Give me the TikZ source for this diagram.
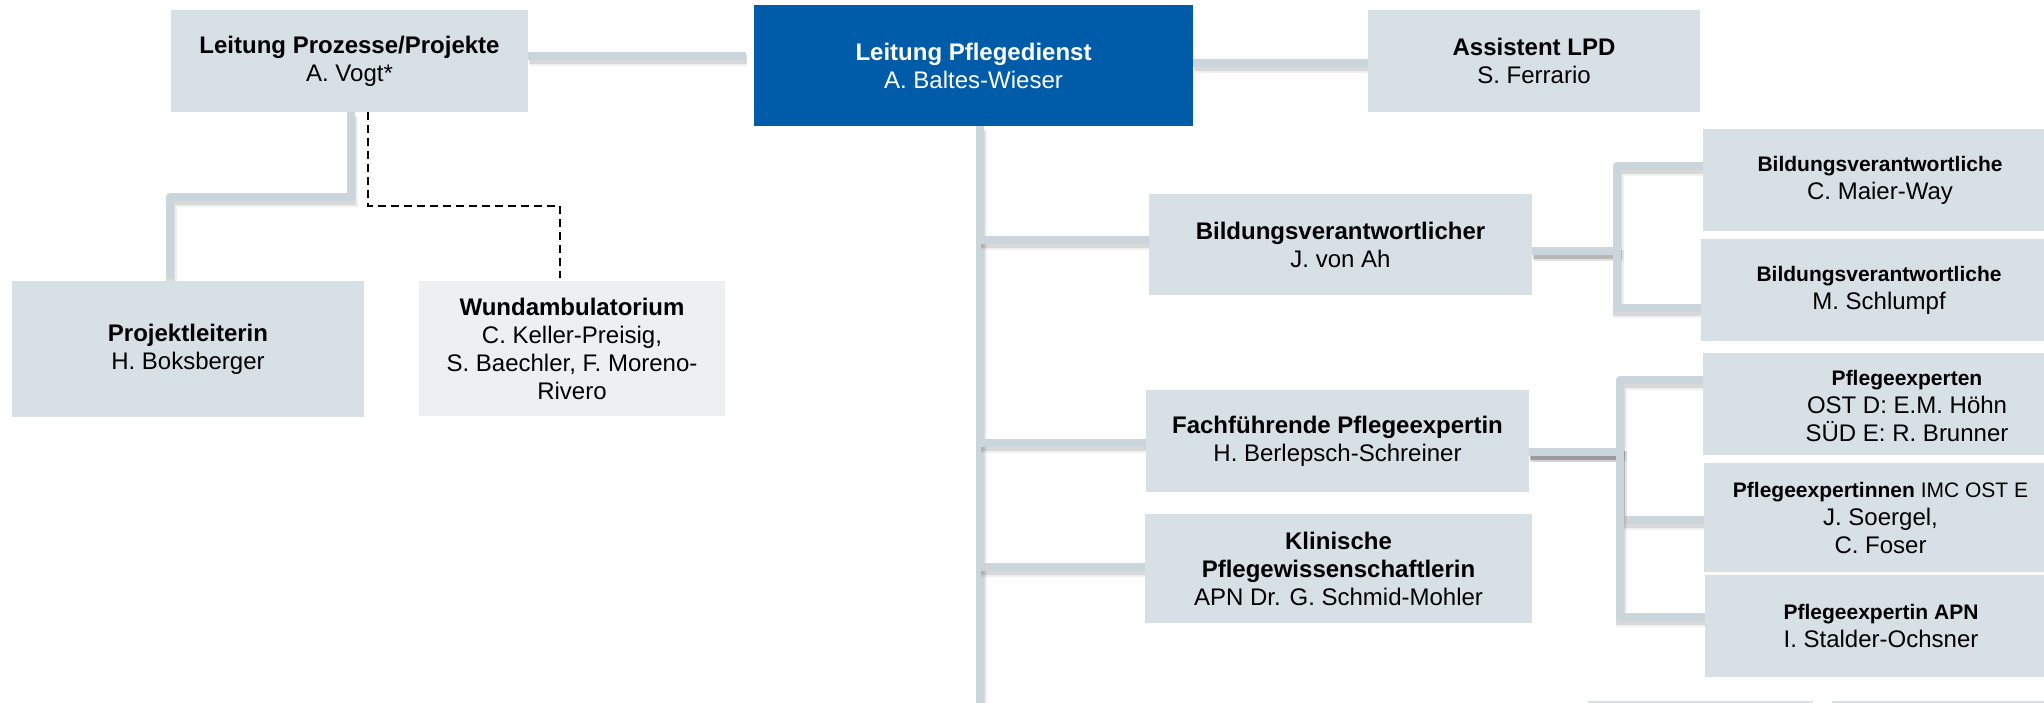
\documentclass[tikz,border=0pt]{standalone}
\usepackage{fontspec}
\setmainfont{Liberation Sans}
\usetikzlibrary{backgrounds}
\definecolor{boxfill}{HTML}{D6E0E5}
\definecolor{lpdblue}{HTML}{005CA9}
\definecolor{wundfill}{HTML}{EDEFF1}
\definecolor{connc}{HTML}{CAD6DC}
\newcommand\fsMain{\fontsize{12}{14}\selectfont}
\newcommand\fsTitle{\fontsize{10.5}{14}\selectfont}
\begin{document}
\begin{tikzpicture}[x=0.5pt,y=-0.5pt,
  orgbox/.style={rectangle, fill=boxfill, inner sep=0pt, align=center, font=\fsMain, anchor=center},
  bluebox/.style={orgbox, fill=lpdblue, text=white},
  lightbox/.style={orgbox, fill=wundfill},
  plaintext/.style={inner sep=0pt, align=center, font=\fsMain, anchor=center},
  connline/.style={draw=connc, line width=4pt, line join=round,
    preaction={draw=black, draw opacity=0.10, line width=4.6pt, transform canvas={yshift=-1.7pt, xshift=0.4pt}},
    preaction={draw=black, draw opacity=0.06, line width=5.6pt, transform canvas={yshift=-2.2pt, xshift=0.6pt}}},
  dashline/.style={draw=black, line width=1pt, dash pattern=on 4pt off 2.5pt}
]
\useasboundingbox (0,0) rectangle (2044,702);
\clip (0,0) rectangle (2044,702);

% boxes
\node[orgbox, minimum width=178.5pt, minimum height=51pt] (lpp) at (349.5,61)
  {\textbf{Leitung Prozesse/Projekte}\\A. Vogt*};
\node[bluebox, minimum width=219.5pt, minimum height=60.5pt] (lpd) at (973.5,65.5)
  {\textbf{Leitung Pflegedienst}\\A. Baltes-Wieser};
\node[orgbox, minimum width=166pt, minimum height=51pt] (ass) at (1534,61)
  {\textbf{Assistent LPD}\\S. Ferrario};
\node[orgbox, minimum width=176pt, minimum height=68pt] (pl) at (188,349)
  {\textbf{Projektleiterin}\\H. Boksberger};
\node[lightbox, minimum width=153pt, minimum height=67.5pt] (wund) at (572,348.5)
  {\textbf{Wundambulatorium}\\C. Keller-Preisig,\\S. Baechler, F. Moreno-\\Rivero};
\node[orgbox, minimum width=191.5pt, minimum height=50.5pt] (bva) at (1340.5,244.5)
  {\textbf{Bildungsverantwortlicher}\\J. von Ah};
\node[orgbox, minimum width=191.5pt, minimum height=51pt] (ffp) at (1337.5,441)
  {\textbf{Fachführende Pflegeexpertin}\\H. Berlepsch-Schreiner};
\node[orgbox, minimum width=193.5pt, minimum height=54.5pt] (kpw) at (1338.5,568.5)
  {\textbf{Klinische}\\\textbf{Pflegewissenschaftlerin}\\APN Dr. G. Schmid-Mohler};
\node[orgbox, minimum width=177pt, minimum height=51pt] (bv1) at (1880,180)
  {{\fsTitle\bfseries Bildungsverantwortliche}\\C. Maier-Way};
\node[orgbox, minimum width=178pt, minimum height=51pt] (bv2) at (1879,290)
  {{\fsTitle\bfseries Bildungsverantwortliche}\\M. Schlumpf};
\node[orgbox, minimum width=177pt, minimum height=51pt] (pe1) at (1880,404) {};
\node[plaintext] (pe1t) at (1907,406)
  {{\fsTitle\bfseries Pflegeexperten}\\OST D: E.M. Höhn\\SÜD E: R. Brunner};
\node[orgbox, minimum width=176.5pt, minimum height=54.5pt] (pe2) at (1880.5,517.5)
  {{\fsTitle\textbf{Pflegeexpertinnen} IMC OST E}\\J. Soergel,\\C. Foser};
\node[orgbox, minimum width=176pt, minimum height=51pt] (pe3) at (1881,626)
  {{\fsTitle\bfseries Pflegeexpertin APN}\\I. Stalder-Ochsner};
\node[orgbox, minimum width=112.5pt, minimum height=10pt] (s1) at (1700.5,711) {};
\node[orgbox, minimum width=112.5pt, minimum height=10pt] (s2) at (1944.5,711) {};

\coordinate (lppend) at (746,56);
\coordinate (trunkend) at (980,712);
\coordinate (t1) at (980,240);
\coordinate (t2) at (980,443);
\coordinate (t3) at (980,567);

\begin{scope}[on background layer]
\clip (0,0) rectangle (2044,702);
\draw[connline] (lpp.east |- lppend) -- (lppend);
\draw[connline] (lpd.east |- 0,63) -- (ass.west |- 0,63);
\draw[connline] (lpp.south -| 351,0) -- (351,197) -- (170,197) -- ([yshift=1.5pt]pl.north -| 170,0);
\draw[connline] (lpd.south -| trunkend) -- (trunkend);
\draw[connline] (t1) -- (bva.west |- t1);
\draw[connline] (t2) -- (ffp.west |- t2);
\draw[connline] (t3) -- (kpw.west |- t3);
\draw[connline] (bva.east |- 0,251) -- (1617,251) -- (1617,166) -- (bv1.west |- 0,166);
\draw[connline] (bva.east |- 0,251) -- (1617,251) -- (1617,308) -- (bv2.west |- 0,308);
\draw[connline] (ffp.east |- 0,452) -- (1620,452) -- (1620,380) -- (pe1.west |- 0,380);
\draw[connline] (ffp.east |- 0,452) -- (1620,452) -- (1620,520) -- (pe2.west |- 0,520);
\draw[connline] (ffp.east |- 0,452) -- (1620,452) -- (1620,617) -- (pe3.west |- 0,617);
\end{scope}
\draw[dashline] (lpp.south -| 368,0) -- (368,206) -- (560,206) -- ([yshift=1.5pt]wund.north -| 560,0);
\end{tikzpicture}
\end{document}
